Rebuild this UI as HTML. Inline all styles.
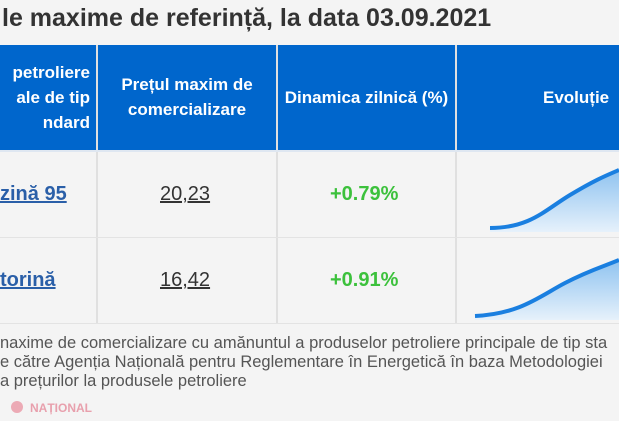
<!DOCTYPE html>
<html><head><meta charset="utf-8"><style>
body{margin:0;width:619px;height:421px;background:#f4f4f4;position:relative;overflow:hidden;font-family:"Liberation Sans",sans-serif}
.a{position:absolute}
.t{left:2px;top:4px;font-size:25px;font-weight:bold;color:#333;white-space:nowrap}
.hd{left:0;top:45px;width:619px;height:107px;background:#0066cc}
.v{width:2px;background:#dfe7f1}
.h{color:#fff;font-size:17px;font-weight:bold;text-align:center;line-height:25px;white-space:nowrap}
.row{left:0;width:619px;height:1px;background:#e3e3e3}
.lnk{color:#2a5fa8;font-weight:bold;font-size:20px;text-decoration:underline}
.num{color:#333;font-size:20px;text-decoration:underline}
.g{color:#3cc13c;font-weight:bold;font-size:20px}
.f{left:0;color:#555;font-size:16.5px;white-space:nowrap;line-height:19px}
</style></head><body>
<div class="a t">le maxime de referință, la data 03.09.2021</div>
<div class="a hd"></div>
<div class="a v" style="left:96px;top:45px;height:278px;background:#e0e0e0"></div>
<div class="a v" style="left:276px;top:45px;height:278px;background:#e0e0e0"></div>
<div class="a v" style="left:455px;top:45px;height:278px;background:#e0e0e0"></div>
<div class="a" style="left:0;top:150px;width:619px;height:2px;background:#dfe7f1"></div>
<div class="a h" style="left:-2px;top:60px;text-align:right;width:92px"> petroliere<br>ale de tip<br>ndard</div>
<div class="a h" style="left:98px;top:72px;width:178px">Prețul maxim de<br>comercializare</div>
<div class="a h" style="left:278px;top:85px;width:177px">Dinamica zilnică (%)</div>
<div class="a h" style="left:543px;top:85px;width:100px;text-align:left">Evoluție</div>
<div class="a row" style="top:237px"></div>
<div class="a row" style="top:323px"></div>
<div class="a lnk" style="left:0;top:183px">zină 95</div>
<div class="a num" style="left:160px;top:183px">20,23</div>
<div class="a g" style="left:330px;top:183px">+0.79%</div>
<div class="a lnk" style="left:0;top:269px">torină</div>
<div class="a num" style="left:160px;top:269px">16,42</div>
<div class="a g" style="left:330px;top:269px">+0.91%</div>
<svg class="a" style="left:0;top:0" width="619" height="421">
<defs><linearGradient id="gr" x1="0" y1="0" x2="0" y2="1"><stop offset="0" stop-color="#8fc3f0"/><stop offset="1" stop-color="#e6f1fb"/></linearGradient></defs>
<path d="M490 228 C530 228 545 210 570 195 S605 176 619 170 L619 232 L490 232Z" fill="url(#gr)"/>
<path d="M490 228 C530 228 545 210 570 195 S605 176 619 170" fill="none" stroke="#1a7fe0" stroke-width="4"/>
<path d="M475 316 C520 314 540 296 565 283 S605 266 619 260 L619 320 L475 320Z" fill="url(#gr)"/>
<path d="M475 316 C520 314 540 296 565 283 S605 266 619 260" fill="none" stroke="#1a7fe0" stroke-width="4"/>
<circle cx="17" cy="407" r="6" fill="#e88a9a" opacity="0.7"/>
<text x="30" y="412" font-family="Liberation Sans" font-weight="bold" font-size="12" fill="#e8a0ad">NAȚIONAL</text>
</svg>
<div class="a f" style="top:334px">naxime de comercializare cu amănuntul a produselor petroliere principale de tip sta</div>
<div class="a f" style="top:353px">e către Agenția Națională pentru Reglementare în Energetică în baza Metodologiei</div>
<div class="a f" style="top:372px">a prețurilor la produsele petroliere</div>
</body></html>
